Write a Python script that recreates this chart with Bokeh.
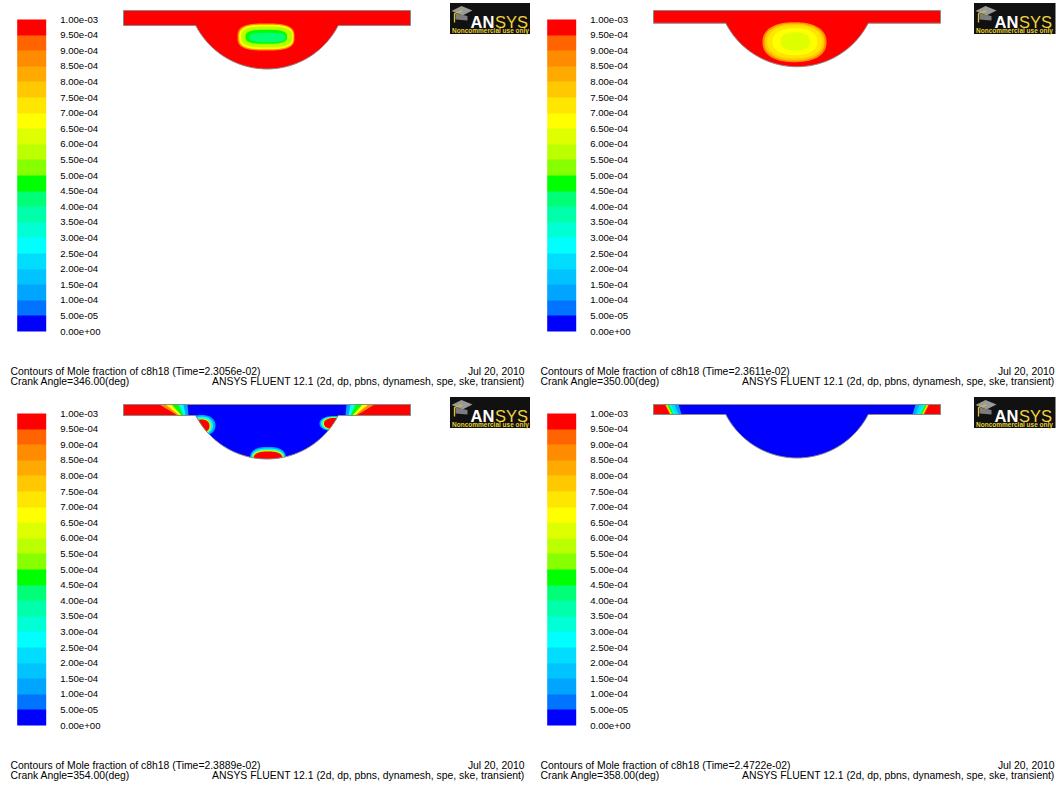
import numpy as np
from bokeh.plotting import figure
from bokeh.layouts import gridplot
from bokeh.models import Range1d, ColumnDataSource, LinearColorMapper, ColorBar, FixedTicker
from bokeh.core.properties import value
from bokeh.embed import file_html
from bokeh.resources import INLINE

# ---------------- data ----------------
# Fluent contour bands, lowest to highest
palette = ["#0000ff", "#0073ff", "#00a5ff", "#00c3ff", "#00ddff",
           "#00ffff", "#00ffd5", "#00ffaa", "#00ff77", "#00ff00",
           "#88ff00", "#bbff00", "#ddff00", "#ffff00", "#ffe600",
           "#ffc800", "#ffaa00", "#ff8c00", "#ff6400", "#ff0000"]
tick_labels = ["0.00e+00", "5.00e-05", "1.00e-04", "1.50e-04", "2.00e-04",
               "2.50e-04", "3.00e-04", "3.50e-04", "4.00e-04", "4.50e-04",
               "5.00e-04", "5.50e-04", "6.00e-04", "6.50e-04", "7.00e-04",
               "7.50e-04", "8.00e-04", "8.50e-04", "9.00e-04", "9.50e-04",
               "1.00e-03"]
times = ["2.3056e-02", "2.3611e-02", "2.3889e-02", "2.4722e-02"]
crank_angles = ["346.00", "350.00", "354.00", "358.00"]
run_date = "Jul 20, 2010"
solver_info = "ANSYS FLUENT 12.1 (2d, dp, pbns, dynamesh, spe, ske, transient)"
field_name = "Mole fraction of c8h18"

piston_gap = [15.0, 12.7, 11.0, 10.0]          # squish gap per crank angle
background_val = [1.0e-3, 1.0e-3, 0.0, 0.0]    # bulk mole fraction

# pockets inside the chamber (one row per contour band, outer band first)
blob_panel = [0, 0, 0, 0, 0,
              1, 1, 1, 1, 1,
              2, 2, 2, 2, 2, 2, 2, 2, 2, 2, 2, 2]
blob_cx = [265.5, 265.8, 266.2, 265.8, 267.0,
           264.0, 264.0, 264.2, 264.4, 264.7,
           201.0, 201.0, 201.0, 201.0,
           333.5, 333.5, 333.5, 333.5,
           267.5, 267.5, 267.5, 267.5]
blob_cy = [36.5, 36.5, 36.5, 36.3, 37.0,
           41.7, 41.5, 41.3, 41.2, 41.0,
           31.0, 31.0, 31.5, 31.5,
           29.0, 29.0, 29.0, 29.0,
           64.5, 64.5, 64.5, 64.5]
blob_rx = [28.5, 27.2, 25.5, 20.8, 18.0,
           32.0, 30.0, 27.5, 22.5, 14.7,
           14.0, 11.5, 9.5, 8.0,
           14.5, 13.0, 11.5, 10.0,
           18.0, 16.8, 15.8, 14.5]
blob_ry = [13.5, 12.3, 10.5, 7.0, 4.7,
           20.0, 18.5, 16.5, 13.5, 9.2,
           10.5, 9.0, 7.5, 6.5,
           7.5, 6.8, 6.2, 5.5,
           12.0, 10.5, 9.0, 7.5]
blob_round = [3.0, 3.0, 3.0, 3.0, 3.0,
              2.3, 2.3, 2.3, 2.3, 2.3,
              2.2, 2.2, 2.2, 2.2,
              2.2, 2.2, 2.2, 2.2,
              2.6, 2.6, 2.6, 2.6]
blob_val = [8.7e-4, 6.8e-4, 5.8e-4, 4.7e-4, 4.2e-4,
            8.7e-4, 7.7e-4, 7.2e-4, 6.7e-4, 6.2e-4,
            1.2e-4, 2.7e-4, 5.5e-4, 9.7e-4,
            1.2e-4, 2.7e-4, 5.5e-4, 9.7e-4,
            1.2e-4, 2.7e-4, 5.5e-4, 9.7e-4]

# fuel left in the squish-region corners (distance from each end, top / bottom)
end_panel = [2, 2, 2, 2, 2, 2,
             3, 3, 3, 3, 3, 3, 3]
end_val = [1.2e-4, 2.7e-4, 4.7e-4, 6.7e-4, 8.7e-4, 9.7e-4,
           1.2e-4, 2.2e-4, 3.2e-4, 4.7e-4, 6.7e-4, 8.7e-4, 9.7e-4]
end_top = [64.0, 60.0, 55.0, 48.0, 42.0, 36.0,
           25.0, 21.0, 17.5, 15.0, 13.5, 12.5, 11.5]
end_bot = [65.0, 62.0, 60.0, 58.0, 56.0, 54.0,
           28.0, 25.0, 22.5, 20.0, 18.5, 17.5, 16.5]

# ---------------- geometry / layout ----------------
PANEL_W = [530, 526]
PANEL_H = [394, 393]
LOGO_SHIFT = [0, -6]
TOP = 10.0
X0, X1 = 123.0, 410.0
XC = 0.5 * (X0 + X1)
BOWL_HALF = 71.2
BOWL_DEPTH = 43.5
R = (BOWL_HALF ** 2 + BOWL_DEPTH ** 2) / (2 * BOWL_DEPTH)

mapper = LinearColorMapper(palette=palette, low=0.0, high=1.0e-3)
fill = {"field": "val", "transform": mapper}
FONT = value("Liberation Sans")


def bowl_center(sb):
    return XC, sb + BOWL_DEPTH - R


def domain_poly(gap):
    sb = TOP + gap
    cx, cy = bowl_center(sb)
    t0 = np.arcsin((R - BOWL_DEPTH) / R)
    t = np.linspace(t0, np.pi - t0, 80)
    ax = cx + R * np.cos(t)
    ay = cy + R * np.sin(t)
    xs = [X0, X1, X1] + list(ax) + [X0]
    ys = [TOP, TOP, sb] + list(ay) + [sb]
    return xs, ys


def clip_to_domain(x, y, gap):
    sb = TOP + gap
    cx, cy = bowl_center(sb)
    y = np.maximum(y, TOP)
    dx, dy = x - cx, y - cy
    d = np.hypot(dx, dy)
    out = (y > sb) & (d > R)
    x = np.where(out, cx + dx * R / np.maximum(d, 1e-9), x)
    y = np.where(out, cy + dy * R / np.maximum(d, 1e-9), y)
    return x, y


def blob_poly(cx, cy, rx, ry, n, gap):
    t = np.linspace(0, 2 * np.pi, 121)
    c, s = np.cos(t), np.sin(t)
    x = cx + rx * np.sign(c) * np.abs(c) ** (2.0 / n)
    y = cy + ry * np.sign(s) * np.abs(s) ** (2.0 / n)
    x, y = clip_to_domain(x, y, gap)
    return list(x), list(y)


tick_vals = [float(s) for s in tick_labels]


def make_panel(i):
    w = PANEL_W[i % 2]
    h = PANEL_H[i // 2]
    lx = LOGO_SHIFT[i % 2]
    gap = piston_gap[i]
    sb = TOP + gap
    p = figure(width=w, height=h, x_range=Range1d(0, w), y_range=Range1d(h, 0),
               output_backend="svg", toolbar_location=None,
               x_axis_location=None, y_axis_location=None,
               min_border=0, outline_line_color=None)
    p.grid.visible = False

    # chamber filled with the bulk value
    dx, dy = domain_poly(gap)
    p.patches("xs", "ys", fill_color=fill, line_color=None,
              source=ColumnDataSource(dict(xs=[dx], ys=[dy], val=[background_val[i]])))

    # squish-corner bands, both ends
    exs, eys, evs = [], [], []
    for k in range(len(end_panel)):
        if end_panel[k] != i:
            continue
        for side in (1, -1):
            xe = X0 if side == 1 else X1
            exs.append([xe, xe + side * end_top[k], xe + side * end_bot[k], xe])
            eys.append([TOP, TOP, sb, sb])
            evs.append(end_val[k])
    if exs:
        p.patches("xs", "ys", fill_color=fill, line_color=None,
                  source=ColumnDataSource(dict(xs=exs, ys=eys, val=evs)))

    # pockets
    bxs, bys, bvs = [], [], []
    for k in range(len(blob_panel)):
        if blob_panel[k] != i:
            continue
        bx, by = blob_poly(blob_cx[k], blob_cy[k], blob_rx[k], blob_ry[k], blob_round[k], gap)
        bxs.append(bx)
        bys.append(by)
        bvs.append(blob_val[k])
    if bxs:
        p.patches("xs", "ys", fill_color=fill, line_color=None,
                  source=ColumnDataSource(dict(xs=bxs, ys=bys, val=bvs)))

    # chamber outline
    p.patch(dx, dy, fill_color=None, line_color="#8a8a8a", line_width=1)

    # colour bar
    cb = ColorBar(color_mapper=mapper, ticker=FixedTicker(ticks=tick_vals),
                  major_label_overrides={v: s for v, s in zip(tick_vals, tick_labels)},
                  width=29, height=312, location=(16.7, h - 331), padding=0, margin=0,
                  label_standoff=14, major_tick_line_color=None, minor_tick_line_color=None,
                  bar_line_color=None, border_line_color=None, background_fill_alpha=0,
                  major_label_text_font="Liberation Sans", major_label_text_font_size="9.6px",
                  major_label_text_color="black")
    p.add_layout(cb)

    # footer
    p.text(x=[10, 10], y=[371, 380.5],
           text=["Contours of %s  (Time=%s)" % (field_name, times[i]),
                 "Crank Angle=%s(deg)" % crank_angles[i]],
           text_font=FONT, text_font_size=value("10.4px"), text_color="black",
           text_align="left", text_baseline="middle")
    p.text(x=[524, 524], y=[371, 380.5], text=[run_date, solver_info],
           text_font=FONT, text_font_size=value("10.4px"), text_color="black",
           text_align="right", text_baseline="middle")

    # ANSYS logo
    p.quad(left=449.5 + lx, right=531 + lx, top=2.5, bottom=33.5,
           fill_color="#111111", line_color=None)
    p.patch([451 + lx, 461 + lx, 472 + lx, 462 + lx], [10.5, 5.5, 10, 15],
            fill_color="#9a9a9a", line_color=None)
    p.patch([455 + lx, 467 + lx, 467 + lx, 455 + lx], [13, 15.5, 20, 19],
            fill_color="#7d7d7d", line_color=None)
    p.line([461.5 + lx, 454 + lx, 454 + lx], [10.5, 13, 22], line_color="#e0c030", line_width=1.3)
    p.text(x=[470 + lx], y=[21], text=["AN"], text_font=FONT, text_font_size=value("16.5px"),
           text_font_style="bold", text_color="white", text_align="left", text_baseline="alphabetic")
    p.text(x=[494.5 + lx], y=[21], text=["SYS"], text_font=FONT, text_font_size=value("16.5px"),
           text_color="#f0d23c", text_align="left", text_baseline="alphabetic")
    p.text(x=[490 + lx], y=[30], text=["Noncommercial use only"], text_font=FONT,
           text_font_size=value("6.5px"), text_font_style="bold", text_color="#e8d030",
           text_align="center", text_baseline="middle")
    return p


panels = [make_panel(i) for i in range(4)]
layout = gridplot([[panels[0], panels[1]], [panels[2], panels[3]]], toolbar_location=None)

open("out.html", "w").write(file_html(layout, INLINE))
